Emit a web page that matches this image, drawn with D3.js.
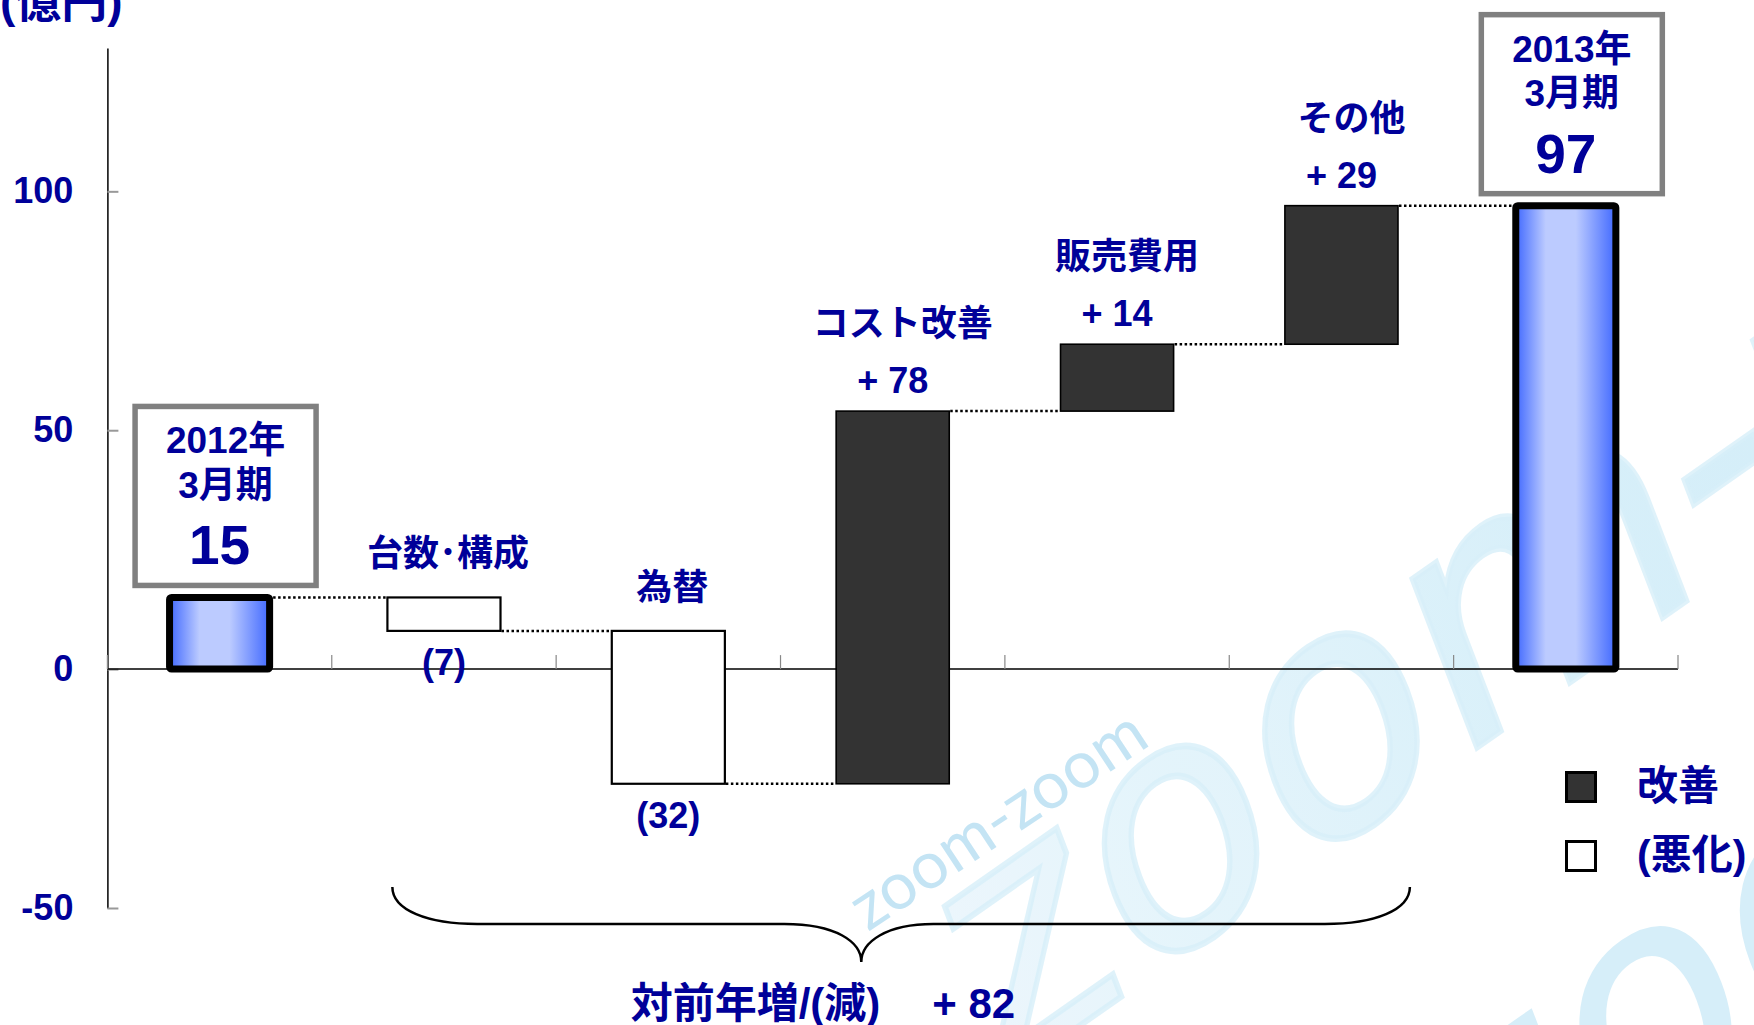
<!DOCTYPE html>
<html><head><meta charset="utf-8">
<script src="https://cdn.jsdelivr.net/npm/d3@7"></script>
<style>html,body{margin:0;padding:0;background:#fff;overflow:hidden}</style>
</head><body><svg id="c" width="1754" height="1025"></svg>
<script>
// ---- data ----
const categories = ["2012年3月期","台数･構成","為替","コスト改善","販売費用","その他","2013年3月期"];
const startValue = 15;
const endValue = 97;
const changeNames = ["台数･構成","為替","コスト改善","販売費用","その他"];
const changeValues = [-7, -32, 78, 14, 29];
const changeLabels = ["(7)","(32)","+ 78","+ 14","+ 29"];
const totalLines = [["2012年","3月期"],["2013年","3月期"]];
const totalLabels = ["15","97"];
const yTicks = [-50, 0, 50, 100];
const yDomain = [-50, 130];
const unitLabel = "(億円)";
const netLabel = "対前年増/(減)";
const netValueLabel = "+ 82";
const legendLabels = ["改善","(悪化)"];

// ---- setup ----
const svg = d3.select("#c");
const FONT = "'Liberation Sans', Arial, 'Noto Sans CJK JP', sans-serif";
const NAVY = "#000099";

const x = d3.scaleBand().domain(categories).range([107.4, 1678]).paddingInner(0).paddingOuter(0);
const y = d3.scaleLinear().domain(yDomain).range([908, 48]);
const bw = x.bandwidth();
const cx = c => x(c) + bw / 2;

const defs = svg.append("defs");
const g1 = defs.append("linearGradient").attr("id","blueGrad").attr("x1","0").attr("x2","1").attr("y1","0").attr("y2","0");
[[0,"#4169ff"],[0.3,"#bccbff"],[0.6,"#bccbff"],[1,"#4169ff"]].forEach(s=>g1.append("stop").attr("offset",s[0]).attr("stop-color",s[1]));
const g2 = defs.append("linearGradient").attr("id","wmGrad").attr("x1","0").attr("x2","1").attr("y1","0").attr("y2","0");
[[0,"#eaf6fc"],[0.4,"#d3eef9"],[1,"#c9e9f7"]].forEach(s=>g2.append("stop").attr("offset",s[0]).attr("stop-color",s[1]));

// ---- watermark (decorative) ----
const wm = svg.append("g").attr("class","watermark");
wm.append("text").text("zoom-zoom")
  .attr("transform","translate(995,1085) rotate(-35) skewX(-14)")
  .attr("font-family","'DejaVu Sans', sans-serif").attr("font-weight","normal")
  .attr("font-size",320).attr("fill","url(#wmGrad)").attr("opacity",0.9)
  .attr("stroke","#d3eef9").attr("stroke-width",6).attr("stroke-opacity",0.8);
wm.append("text").text("zoom")
  .attr("transform","translate(1470,1265) rotate(-35) skewX(-14)")
  .attr("font-family","'DejaVu Sans', sans-serif").attr("font-weight","normal")
  .attr("font-size",320).attr("fill","#d0ecf8").attr("opacity",0.85);
wm.append("text").text("zoom-zoom")
  .attr("transform","translate(868,932) rotate(-33.5)")
  .attr("font-family","Lato, sans-serif").attr("font-weight",400)
  .attr("font-size",66).attr("fill","#c4e4f4");

// ---- waterfall model ----
let run = startValue;
const steps = changeValues.map((v,i)=>{const from=run; run+=v; return {cat:changeNames[i], from, to:run, v, label:changeLabels[i], type:"change"};});
const bars = [{cat:categories[0], from:0, to:startValue, type:"total", idx:0}]
  .concat(steps)
  .concat([{cat:categories[categories.length-1], from:0, to:endValue, type:"total", idx:1}]);

const totalW = bw * 0.446, changeW = bw * 0.504;
bars.forEach(b=>{
  b.w = b.type==="total" ? totalW : changeW;
  b.x0 = cx(b.cat) - b.w/2;
  b.x1 = cx(b.cat) + b.w/2;
  b.outer = b.type==="total" ? 3.5 : 1;
});

// ---- axes ----
const yAxis = d3.axisLeft(y).tickValues(yTicks).tickSizeInner(-11).tickSizeOuter(0).tickPadding(34).tickFormat(d=>String(d));
const ya = svg.append("g").attr("transform",`translate(${x.range()[0]},0)`).call(yAxis);
ya.select(".domain").attr("stroke","#000").attr("stroke-width",1.5);
ya.selectAll(".tick line").attr("stroke","#999").attr("stroke-width",2);
ya.selectAll(".tick text").attr("font-family",FONT).attr("font-weight","bold").attr("font-size",36).attr("fill",NAVY);

const xa = svg.append("g");
xa.append("line").attr("x1",x.range()[0]).attr("x2",x.range()[1]).attr("y1",y(0)).attr("y2",y(0)).attr("stroke","#000").attr("stroke-width",1.5);
const bounds = categories.map(c=>x(c)).concat([x.range()[1]]);
xa.selectAll("line.tk").data(bounds).join("line").attr("class","tk")
  .attr("x1",d=>d).attr("x2",d=>d).attr("y1",y(0)).attr("y2",y(0)-14)
  .attr("stroke","#888").attr("stroke-width",1.2);

// ---- connectors ----
svg.append("g").selectAll("line").data(d3.pairs(bars)).join("line")
  .attr("x1",d=>d[0].x1 + d[0].outer).attr("x2",d=>d[1].x0 - d[1].outer)
  .attr("y1",d=>y(d[0].to)).attr("y2",d=>y(d[0].to))
  .attr("stroke","#000").attr("stroke-width",2.5).attr("stroke-dasharray","2.5,2.5");

// ---- bars ----
const bg = svg.append("g");
bg.selectAll("rect.chg").data(bars.filter(b=>b.type==="change")).join("rect").attr("class","chg")
  .attr("x",d=>d.x0).attr("width",d=>d.w)
  .attr("y",d=>y(Math.max(d.from,d.to))).attr("height",d=>Math.abs(y(d.from)-y(d.to)))
  .attr("fill",d=>d.v>0?"#333333":"#ffffff").attr("stroke","#000").attr("stroke-width",d=>d.v>0?1.6:2.2);
bg.selectAll("rect.tot").data(bars.filter(b=>b.type==="total")).join("rect").attr("class","tot")
  .attr("x",d=>d.x0).attr("width",d=>d.w)
  .attr("y",d=>y(d.to)).attr("height",d=>y(0)-y(d.to))
  .attr("rx",2).attr("fill","url(#blueGrad)").attr("stroke","#000").attr("stroke-width",7).attr("stroke-linejoin","round");

// ---- change labels ----
const lg = svg.append("g").attr("font-family",FONT).attr("font-weight","bold").attr("fill",NAVY).attr("text-anchor","middle");
steps.forEach(s=>{
  const c = cx(s.cat);
  if (s.v > 0) {
    const vb = y(s.to) - 18;
    lg.append("text").attr("x",c).attr("y",vb).attr("font-size",36).text(s.label);
    lg.append("text").attr("x",c+10).attr("y",vb-57).attr("font-size",36).text(s.cat);
  } else {
    lg.append("text").attr("x",c+4).attr("y",y(s.from)-31).attr("font-size",36).text(s.cat);
    lg.append("text").attr("x",c).attr("y",y(s.to)+44).attr("font-size",36).text(s.label);
  }
});

// ---- total boxes ----
bars.filter(b=>b.type==="total").forEach(b=>{
  const c = cx(b.cat), bx = c + 6, bottom = y(b.to) - 12;
  svg.append("rect").attr("x",bx-90.5).attr("y",bottom-179).attr("width",181).attr("height",179)
    .attr("fill","#fff").attr("stroke","#808080").attr("stroke-width",5.5);
  const t = svg.append("g").attr("font-family",FONT).attr("font-weight","bold").attr("fill",NAVY).attr("text-anchor","middle");
  t.append("text").attr("x",bx).attr("y",bottom-132).attr("font-size",37).text(totalLines[b.idx][0]);
  t.append("text").attr("x",bx).attr("y",bottom-87.5).attr("font-size",37).text(totalLines[b.idx][1]);
  t.append("text").attr("x",c).attr("y",bottom-21).attr("font-size",55).text(totalLabels[b.idx]);
});

// ---- unit label ----
svg.append("text").attr("x",0).attr("y",17).attr("font-family",FONT).attr("font-weight","bold")
  .attr("font-size",46).attr("fill",NAVY).text(unitLabel);

// ---- brace ----
const yb = y(yDomain[0]);
const bl = x(changeNames[0]) + bw*0.27, br = x(changeNames[changeNames.length-1]) + bw*0.805;
const tip = x(changeNames[2]) + bw*0.36;
const p = d3.path();
p.moveTo(bl, yb-21);
p.bezierCurveTo(bl, yb+2, bl+35, yb+16, bl+85, yb+16);
p.lineTo(tip-77, yb+16);
p.bezierCurveTo(tip-25, yb+16, tip, yb+34, tip, yb+54);
p.bezierCurveTo(tip, yb+34, tip+25, yb+16, tip+72, yb+16);
p.lineTo(br-85, yb+16);
p.bezierCurveTo(br-35, yb+16, br, yb+2, br, yb-21);
svg.append("path").attr("d",p.toString()).attr("fill","none").attr("stroke","#000").attr("stroke-width",2.5);

const nb = svg.append("g").attr("font-family",FONT).attr("font-weight","bold").attr("fill",NAVY).attr("font-size",42);
nb.append("text").attr("x",tip+19).attr("y",yb+110).attr("text-anchor","end").text(netLabel);
nb.append("text").attr("x",tip+71).attr("y",yb+110).attr("text-anchor","start").text(netValueLabel);

// ---- legend ----
const legFill = ["#333333","#ffffff"];
const lgd = svg.append("g");
legendLabels.forEach((l,i)=>{
  const ly = 772.5 + i*69;
  lgd.append("rect").attr("x",1566.5).attr("y",ly).attr("width",29).attr("height",29)
    .attr("fill",legFill[i]).attr("stroke","#000").attr("stroke-width",3);
  lgd.append("text").attr("x",1637).attr("y",ly+27.5).attr("font-family",FONT).attr("font-weight","bold")
    .attr("font-size",41).attr("fill",NAVY).text(l);
});
</script></body></html>
